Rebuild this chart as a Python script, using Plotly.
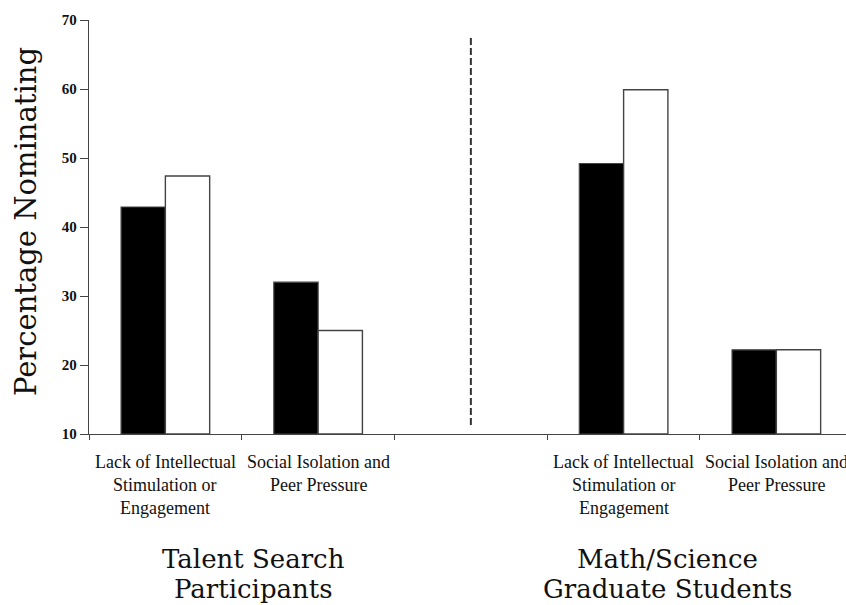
import plotly.graph_objects as go

# Data
categories = ["Lack of Intellectual<br>Stimulation or<br>Engagement",
              "Social Isolation and<br>Peer Pressure",
              "Lack of Intellectual<br>Stimulation or<br>Engagement",
              "Social Isolation and<br>Peer Pressure"]
cat_pos = [0, 1, 3, 4]
series_black = [42.9, 32.0, 49.2, 22.2]
series_white = [47.4, 25.0, 59.9, 22.2]
group_labels = ["Talent Search<br>Participants", "Math/Science<br>Graduate Students"]
group_pos = [0.58, 3.29]
y_ticks = [10, 20, 30, 40, 50, 60, 70]
boundaries = [-0.5, 0.5, 1.5, 2.5, 3.5, 4.5]
divider_x = 2.0
divider_y = [11.3, 67.8]
y_title = "Percentage Nominating"

W, H = 846, 605
ML, MR, MT, MB = 89, 0, 20, 171
xrange = [-0.5, 4.456]

fig = go.Figure()
fig.add_bar(x=cat_pos, y=[v - 10 for v in series_black], base=10,
            marker=dict(color="black", line=dict(color="#444", width=1.2)),
            showlegend=False)
fig.add_bar(x=cat_pos, y=[v - 10 for v in series_white], base=10,
            marker=dict(color="white", line=dict(color="#444", width=1.4)),
            showlegend=False)

# boundary ticks on overlaying axis
fig.add_trace(go.Scatter(x=[None], y=[None], xaxis="x2", showlegend=False))

fig.update_layout(
    width=W, height=H,
    margin=dict(l=ML, r=MR, t=MT, b=MB),
    plot_bgcolor="white", paper_bgcolor="white",
    barmode="group", bargap=0.42, bargroupgap=0,
    font=dict(family="Liberation Serif", color="black"),
    xaxis=dict(range=xrange, showticklabels=False, ticks="",
               showline=True, linecolor="#444", linewidth=1.3,
               showgrid=False, zeroline=False),
    xaxis2=dict(range=xrange, overlaying="x", tickvals=boundaries,
                ticktext=[""] * len(boundaries), ticks="outside", ticklen=5,
                tickcolor="#444", tickwidth=1.3, showgrid=False,
                zeroline=False, showline=False, side="bottom"),
    yaxis=dict(range=[10, 70], tickvals=y_ticks, ticks="outside", ticklen=8,
               tickcolor="#444", tickwidth=1.3, showline=True,
               linecolor="#444", linewidth=1.3, showgrid=False,
               zeroline=False,
               tickfont=dict(family="Liberation Serif", size=15, color="#111",
                             weight="bold")),
)

# category labels, line by line
for pos, lab in zip(cat_pos, categories):
    for i, line in enumerate(lab.split("<br>")):
        fig.add_annotation(x=pos, y=0, xref="x", yref="paper", text=line,
                           showarrow=False, xanchor="center", yanchor="middle",
                           yshift=-28 - 23 * i,
                           font=dict(family="Liberation Serif", size=18,
                                     color="#111"))

for pos, lab in zip(group_pos, group_labels):
    for i, line in enumerate(lab.split("<br>")):
        fig.add_annotation(x=pos, y=0, xref="x", yref="paper", text=line,
                           showarrow=False, xanchor="center", yanchor="middle",
                           yshift=-125 - 30 * i,
                           font=dict(family="DejaVu Serif", size=26,
                                     color="#111"))

fig.add_annotation(x=(26 - 89) / (846 - 89), y=1 - (222 - 20) / (434 - 20),
                   xref="paper", yref="paper", text=y_title, textangle=-90,
                   showarrow=False, xanchor="center", yanchor="middle",
                   font=dict(family="DejaVu Serif", size=29, color="#111"))

fig.add_shape(type="line", xref="x", yref="y", x0=divider_x, x1=divider_x,
              y0=divider_y[0], y1=divider_y[1],
              line=dict(color="#333", width=2, dash="7px,3px"))

fig.write_html(
    "out.html",
    config={"displayModeBar": False},
    post_script="document.body.style.margin='0';"
                "document.body.style.overflow='hidden';",
)
